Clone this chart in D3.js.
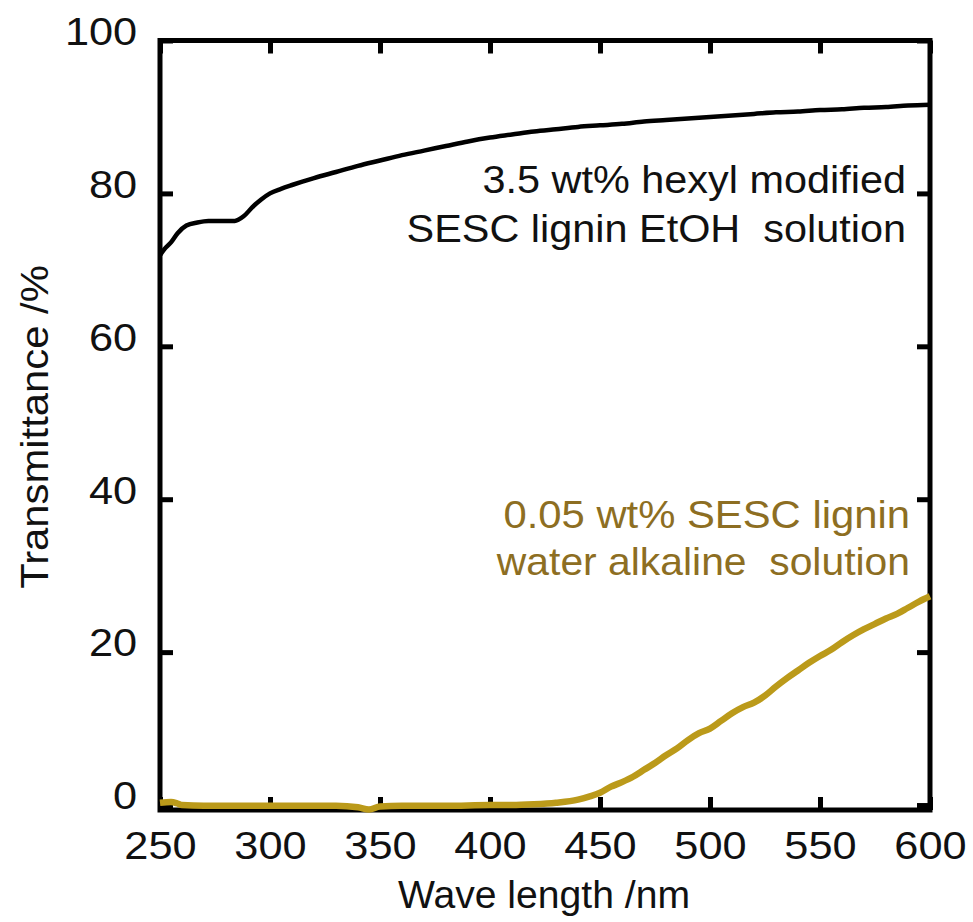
<!DOCTYPE html>
<html>
<head>
<meta charset="utf-8">
<script src="https://cdn.jsdelivr.net/npm/d3@7/dist/d3.min.js"></script>
<style>
  html, body { margin: 0; padding: 0; background: #fff; }
  svg { display: block; }
  text { font-family: "Liberation Sans", Arial, sans-serif; }
</style>
</head>
<body>
<svg id="chart" width="973" height="922"></svg>
<script>
// ---- data ----
const xTicks = [250, 300, 350, 400, 450, 500, 550, 600];
const yTicks = [0, 20, 40, 60, 80, 100];

const hexylWavelength = [250, 252, 255, 258, 262, 267, 272, 278, 284, 288, 292, 296, 300, 305, 310, 320, 330, 340, 350, 360, 370, 380, 390, 400, 410, 420, 430, 440, 450, 460, 470, 480, 490, 500, 510, 520, 530, 540, 550, 560, 570, 580, 590, 600];
const hexylTransmittance = [71.9, 72.7, 73.6, 74.8, 75.8, 76.2, 76.4, 76.4, 76.4, 77.0, 78.2, 79.2, 80.0, 80.6, 81.1, 82.0, 82.8, 83.6, 84.3, 85.0, 85.6, 86.2, 86.8, 87.3, 87.7, 88.1, 88.4, 88.7, 88.9, 89.1, 89.4, 89.6, 89.8, 90.0, 90.2, 90.4, 90.6, 90.7, 90.9, 91.0, 91.2, 91.3, 91.5, 91.6];

const waterWavelength = [250, 255, 258, 260, 270, 300, 330, 340, 345, 350, 360, 380, 400, 410, 420, 430, 440, 445, 450, 455, 460, 465, 470, 475, 480, 485, 490, 495, 500, 505, 510, 515, 520, 525, 530, 535, 540, 545, 550, 555, 560, 565, 570, 575, 580, 585, 590, 595, 600];
const waterTransmittance = [0.3, 0.4, 0.2, 0.0, -0.1, -0.1, -0.1, -0.3, -0.6, -0.2, -0.1, -0.1, 0.0, 0.0, 0.1, 0.3, 0.7, 1.1, 1.6, 2.4, 3.0, 3.7, 4.6, 5.5, 6.5, 7.4, 8.5, 9.4, 10.0, 11.0, 12.0, 12.8, 13.4, 14.3, 15.5, 16.6, 17.6, 18.6, 19.5, 20.3, 21.3, 22.2, 23.0, 23.7, 24.4, 25.0, 25.8, 26.6, 27.3];

const hexylLabel = ["3.5 wt% hexyl modified", "SESC lignin EtOH\u00a0 solution"];
const waterLabel = ["0.05 wt% SESC lignin", "water alkaline\u00a0 solution"];

// ---- layout ----
const L = 160, R = 930, T = 40.5, B = 810;
const svg = d3.select("#chart");
const x = d3.scaleLinear().domain([250, 600]).range([L, R]);
const y = d3.scaleLinear().domain([-0.65, 100]).range([B, T]);
const tickLen = 13, sw = 5;
const fontSize = 38;
const stretch = 1.14;

function styleAxis(g) {
  g.select(".domain").remove();
  g.selectAll(".tick line").attr("stroke", "#000").attr("stroke-width", sw);
  g.selectAll(".tick text").attr("fill", "#111").style("font-size", fontSize + "px")
    .style("font-family", "'Liberation Sans', Arial, sans-serif");
}
const xb = svg.append("g").attr("transform", `translate(0,${B})`)
  .call(d3.axisBottom(x).tickValues(xTicks).tickSizeInner(-tickLen).tickSizeOuter(0).tickPadding(22))
  .call(styleAxis);
xb.selectAll(".tick text").attr("transform", `scale(${stretch},1)`);
svg.append("g").attr("transform", `translate(0,${T})`)
  .call(d3.axisTop(x).tickValues(xTicks).tickSizeInner(-tickLen).tickSizeOuter(0).tickFormat(""))
  .call(styleAxis);
const yl = svg.append("g").attr("transform", `translate(${L},0)`)
  .call(d3.axisLeft(y).tickValues(yTicks).tickSizeInner(-tickLen).tickSizeOuter(0).tickPadding(20))
  .call(styleAxis);
yl.selectAll(".tick text").attr("dy", "0.1em").attr("transform", `scale(${stretch},1)`);
svg.append("g").attr("transform", `translate(${R},0)`)
  .call(d3.axisRight(y).tickValues(yTicks).tickSizeInner(-tickLen).tickSizeOuter(0).tickFormat(""))
  .call(styleAxis);

// frame
svg.append("rect").attr("x", L).attr("y", T).attr("width", R - L).attr("height", B - T)
  .attr("fill", "none").attr("stroke", "#000").attr("stroke-width", sw);

// lines
const line = d3.line().x(d => x(d[0])).y(d => y(d[1])).curve(d3.curveMonotoneX);
svg.append("path")
  .datum(waterWavelength.map((w, i) => [w, waterTransmittance[i]]))
  .attr("d", line).attr("fill", "none").attr("stroke", "#bb9a1a").attr("stroke-width", 6.5)
  .attr("stroke-linejoin", "round");
svg.append("path")
  .datum(hexylWavelength.map((w, i) => [w, hexylTransmittance[i]]))
  .attr("d", line).attr("fill", "none").attr("stroke", "#000").attr("stroke-width", 4.5)
  .attr("stroke-linejoin", "round");

// annotations
const ann = svg.append("g").style("font-size", fontSize + "px").attr("text-anchor", "end");
ann.selectAll("text.h").data(hexylLabel).join("text").attr("class", "h")
  .attr("transform", (d, i) => `translate(906,${193 + i * 49}) scale(1.09,1)`)
  .attr("fill", "#111").text(d => d);
ann.selectAll("text.w").data(waterLabel).join("text").attr("class", "w")
  .attr("transform", (d, i) => `translate(910,${528 + i * 47}) scale(${i === 0 ? 1.1 : 1.075},1)`)
  .attr("fill", "#8d6e22").text(d => d);

// axis titles
svg.append("text").attr("transform", `translate(${(L + R) / 2 - 1},908) scale(1.03,1)`).attr("text-anchor", "middle")
  .style("font-size", fontSize + "px").attr("fill", "#111").text("Wave length /nm");
svg.append("text").attr("transform", "translate(48,427) rotate(-90) scale(1.1,1)").attr("text-anchor", "middle")
  .style("font-size", fontSize + "px").attr("fill", "#111").text("Transmittance /%");
</script>
</body>
</html>
